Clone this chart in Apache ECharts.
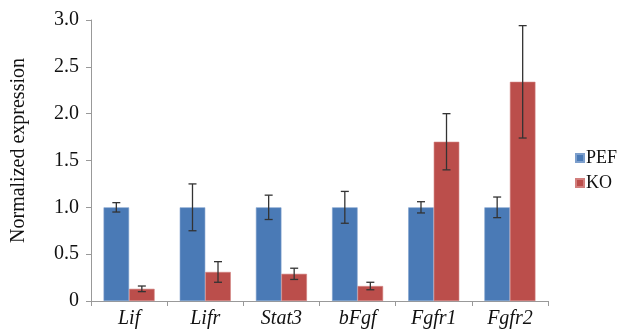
<!DOCTYPE html>
<html><head><meta charset="utf-8">
<script src="https://cdn.jsdelivr.net/npm/echarts@6/dist/echarts.min.js"></script>
<style>html,body{margin:0;padding:0;background:#fff}#c{width:619px;height:332px}</style>
</head><body><div id="c"></div>
<script>
var categories = ['Lif', 'Lifr', 'Stat3', 'bFgf', 'Fgfr1', 'Fgfr2'];
var pefValues = [1.0, 1.0, 1.0, 1.0, 1.0, 1.0];
var pefErrors = [0.05, 0.25, 0.13, 0.17, 0.06, 0.11];
var koValues = [0.13, 0.31, 0.29, 0.16, 1.70, 2.34];
var koErrors = [0.03, 0.11, 0.06, 0.04, 0.30, 0.60];
var yTicks = [0, 0.5, 1.0, 1.5, 2.0, 2.5, 3.0];

var CAT_GAP = 0.33;
var FONT = 'Liberation Serif';

function errSeries(name, vals, errs, side) {
  var data = vals.map(function (v, i) { return [i, v, errs[i]]; });
  return {
    type: 'custom', name: name + ' err', z: 10, silent: true,
    data: data,
    renderItem: function (params, api) {
      var i = api.value(0), v = api.value(1), e = api.value(2);
      var band = api.size([1, 0])[0];
      var bw = band * (1 - CAT_GAP) / 2;
      var c = api.coord([i, v]);
      var x = c[0] + side * bw / 2;
      var yt = api.coord([i, v + e])[1];
      var yb = api.coord([i, v - e])[1];
      var cap = 4;
      var st = { stroke: '#333', lineWidth: 1.3 };
      return { type: 'group', children: [
        { type: 'line', shape: { x1: x, y1: yt, x2: x, y2: yb }, style: st },
        { type: 'line', shape: { x1: x - cap, y1: yt, x2: x + cap, y2: yt }, style: st },
        { type: 'line', shape: { x1: x - cap, y1: yb, x2: x + cap, y2: yb }, style: st }
      ]};
    }
  };
}

var chart = echarts.init(document.getElementById('c'));
chart.setOption({
  animation: false,
  textStyle: { fontFamily: FONT },
  grid: { left: 91, right: 71, top: 20, bottom: 31 },
  legend: {
    orient: 'vertical', left: 575, top: 149, padding: 0,
    itemWidth: 8, itemHeight: 8, itemGap: 7,
    icon: 'rect',
    data: ['PEF', 'KO'],
    textStyle: { fontFamily: FONT, fontWeight: 'normal', fontSize: 18, color: '#111', padding: [0, 0, 0, -3] }
  },
  xAxis: {
    type: 'category', data: categories,
    axisLine: { lineStyle: { color: '#999' } },
    axisTick: { show: true, length: 5, lineStyle: { color: '#999' } },
    axisLabel: { fontFamily: FONT, fontWeight: 'normal', fontSize: 20, fontStyle: 'italic', color: '#111', margin: 8 }
  },
  yAxis: {
    type: 'value', min: 0, max: 3, interval: 0.5,
    name: 'Normalized expression', nameLocation: 'middle', nameGap: 62,
    nameTextStyle: { fontFamily: FONT, fontWeight: 'normal', fontSize: 20, color: '#111', padding: [0, 0, 0, 20] },
    splitLine: { show: false },
    axisLine: { show: true, lineStyle: { color: '#999' } },
    axisTick: { show: true, length: 5, lineStyle: { color: '#999' } },
    axisLabel: {
      fontFamily: FONT, fontWeight: 'normal', fontSize: 20, color: '#111', margin: 12,
      formatter: function (v) { return v === 0 ? '0' : v.toFixed(1); }
    }
  },
  series: [
    { name: 'PEF', type: 'bar', data: pefValues, barGap: '0%', barCategoryGap: (CAT_GAP * 100) + '%',
      itemStyle: { color: '#4a7ab6', borderColor: '#7d9fcc', borderWidth: 0.6 } },
    { name: 'KO', type: 'bar', data: koValues, barGap: '0%', barCategoryGap: (CAT_GAP * 100) + '%',
      itemStyle: { color: '#bb4e4b', borderColor: '#d27f7d', borderWidth: 0.6 } },
    errSeries('PEF', pefValues, pefErrors, -1),
    errSeries('KO', koValues, koErrors, 1)
  ]
});
</script></body></html>
